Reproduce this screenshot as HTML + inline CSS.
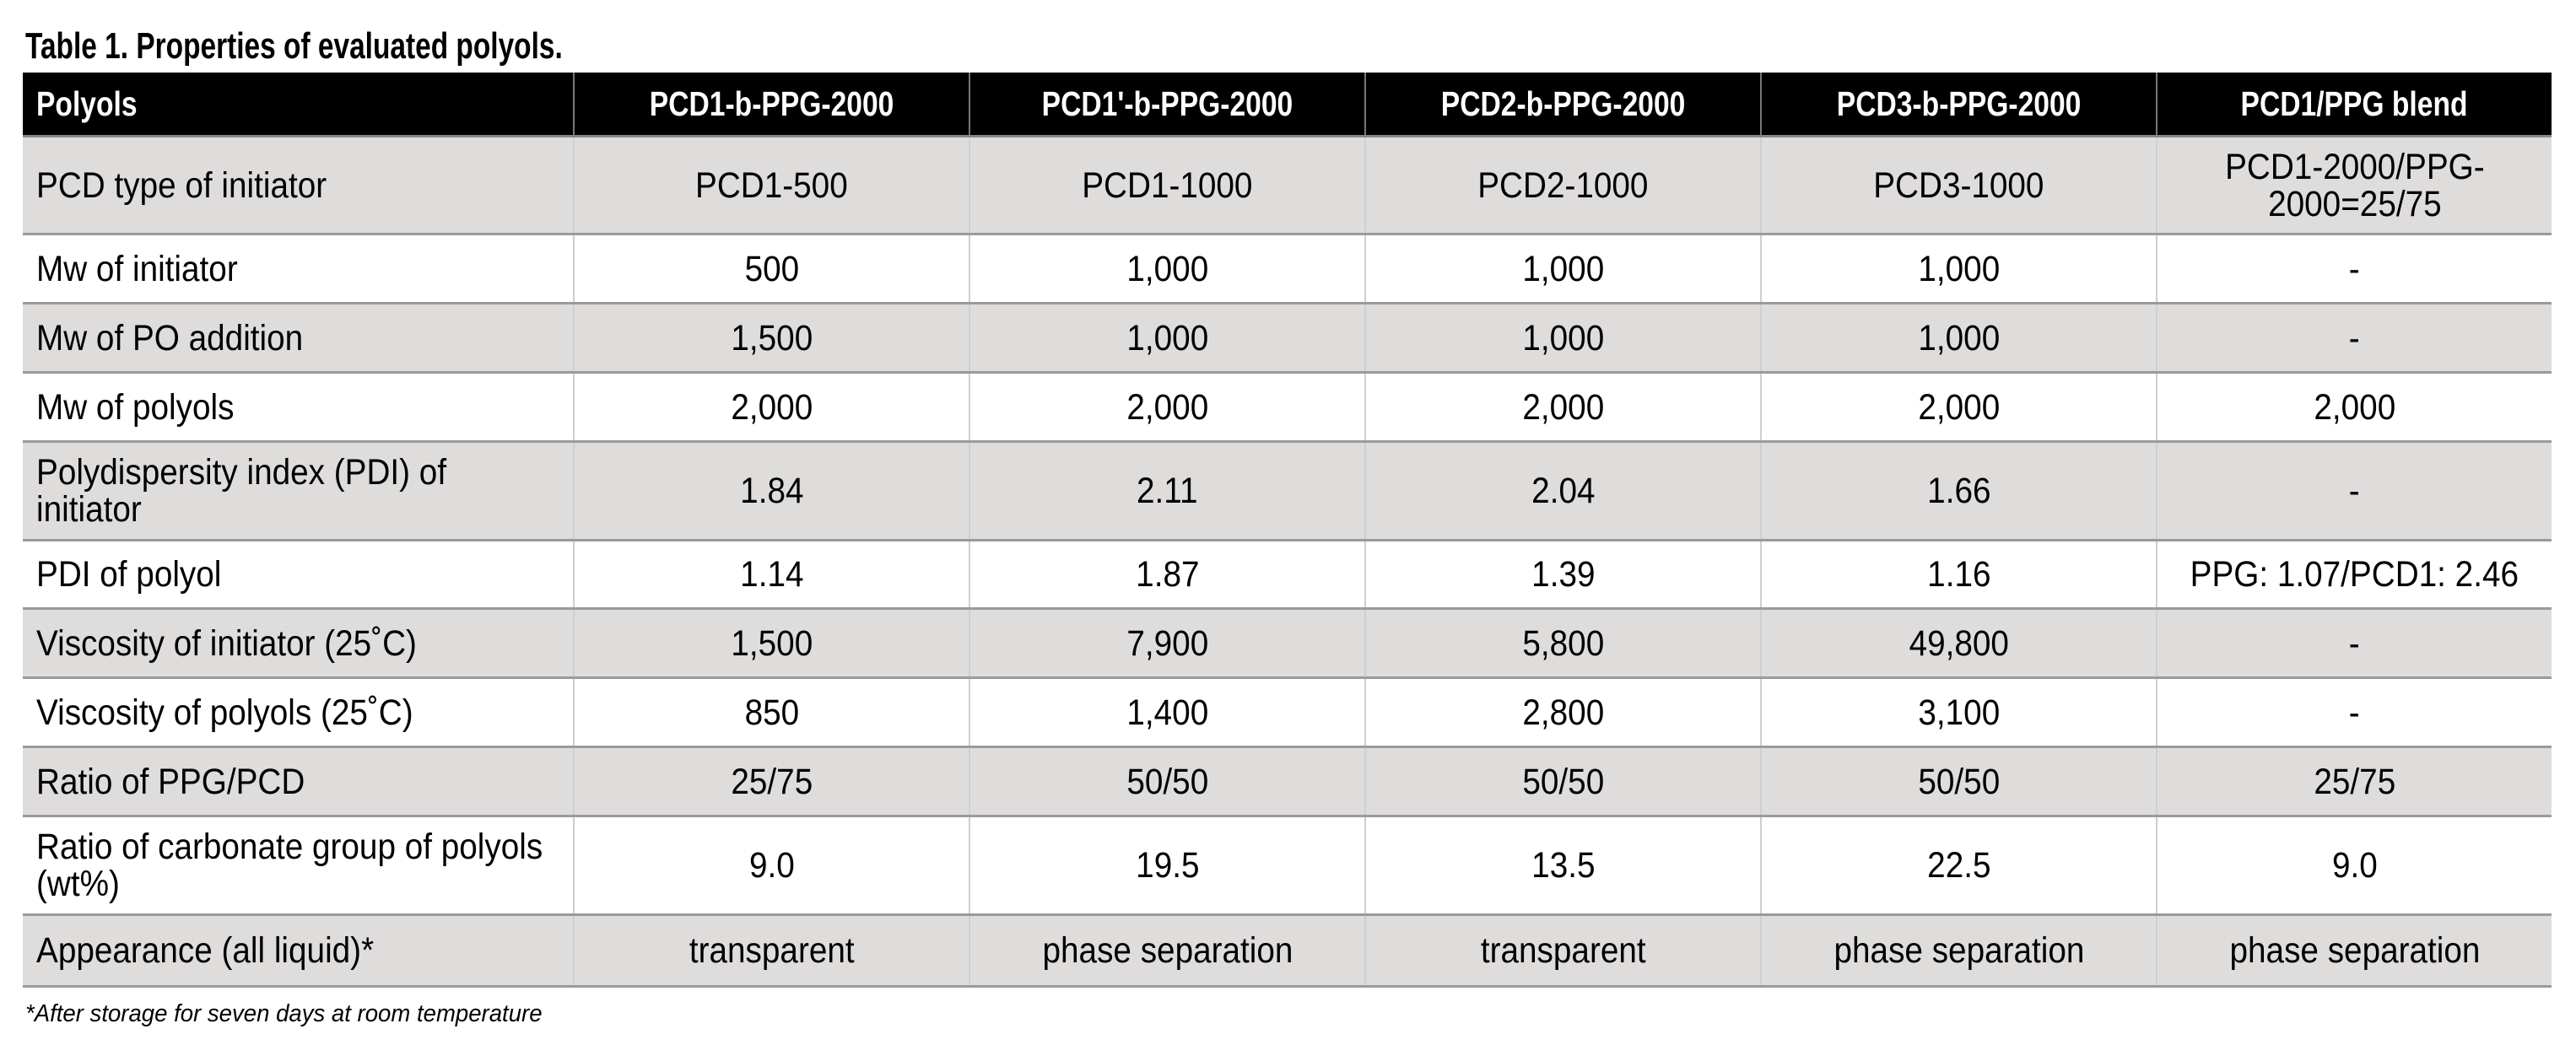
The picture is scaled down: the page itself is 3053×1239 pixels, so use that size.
<!DOCTYPE html>
<html><head><meta charset="utf-8"><style>
html,body{margin:0;padding:0;background:#fff;width:3053px;height:1239px;overflow:hidden}
body{position:relative;font-family:"Liberation Sans",sans-serif;color:#000}
.s{display:inline-block;white-space:nowrap;transform:scaleX(.9);transform-origin:50% 50%}
th .s{transform:scaleX(.82)}
.l{transform-origin:0 50%}
th .l{transform-origin:0 50%}
.title{position:absolute;left:30px;top:30px;font-size:44px;font-weight:bold;line-height:50px;white-space:nowrap;transform:scaleX(.76);transform-origin:0 0}
table{position:absolute;left:27px;top:86px;width:2997px;border-collapse:collapse;table-layout:fixed}
td,th{font-size:43px;text-align:center;padding:0 8px;line-height:44px;border-left:2px solid #cfcfcf;border-bottom:3px solid #9a9a9a;white-space:nowrap;overflow:visible}
th{background:#000;color:#fff;font-weight:bold;height:74px;border-left:2px solid #777;border-bottom:3px solid #888;font-size:41px}
td:first-child,th:first-child{text-align:left;padding-left:16px;border-left:none}
tr.g td{background:#dfdcdc}
.foot{position:absolute;left:30px;top:1186px;font-size:29px;font-style:italic;white-space:nowrap;transform:scaleX(.95);transform-origin:0 0}
</style></head><body>
<div class="title">Table 1. Properties of evaluated polyols.</div>
<table>
<colgroup><col style="width:653px"><col style="width:469px"><col style="width:469px"><col style="width:469px"><col style="width:469px"><col style="width:468px"></colgroup>
<tr><th><span class="s l">Polyols</span></th><th><span class="s">PCD1-b-PPG-2000</span></th><th><span class="s">PCD1'-b-PPG-2000</span></th><th><span class="s">PCD2-b-PPG-2000</span></th><th><span class="s">PCD3-b-PPG-2000</span></th><th><span class="s">PCD1/PPG blend</span></th></tr>
<tr class="g" style="height:116px"><td><span class="s l">PCD type of initiator</span></td><td><span class="s">PCD1-500</span></td><td><span class="s">PCD1-1000</span></td><td><span class="s">PCD2-1000</span></td><td><span class="s">PCD3-1000</span></td><td><span class="s">PCD1-2000/PPG-<br>2000=25/75</span></td></tr>
<tr style="height:82px"><td><span class="s l">Mw of initiator</span></td><td><span class="s">500</span></td><td><span class="s">1,000</span></td><td><span class="s">1,000</span></td><td><span class="s">1,000</span></td><td><span class="s">-</span></td></tr>
<tr class="g" style="height:82px"><td><span class="s l">Mw of PO addition</span></td><td><span class="s">1,500</span></td><td><span class="s">1,000</span></td><td><span class="s">1,000</span></td><td><span class="s">1,000</span></td><td><span class="s">-</span></td></tr>
<tr style="height:82px"><td><span class="s l">Mw of polyols</span></td><td><span class="s">2,000</span></td><td><span class="s">2,000</span></td><td><span class="s">2,000</span></td><td><span class="s">2,000</span></td><td><span class="s">2,000</span></td></tr>
<tr class="g" style="height:117px"><td><span class="s l">Polydispersity index (PDI) of<br>initiator</span></td><td><span class="s">1.84</span></td><td><span class="s">2.11</span></td><td><span class="s">2.04</span></td><td><span class="s">1.66</span></td><td><span class="s">-</span></td></tr>
<tr style="height:81px"><td><span class="s l">PDI of polyol</span></td><td><span class="s">1.14</span></td><td><span class="s">1.87</span></td><td><span class="s">1.39</span></td><td><span class="s">1.16</span></td><td><span class="s">PPG: 1.07/PCD1: 2.46</span></td></tr>
<tr class="g" style="height:82px"><td><span class="s l">Viscosity of initiator (25˚C)</span></td><td><span class="s">1,500</span></td><td><span class="s">7,900</span></td><td><span class="s">5,800</span></td><td><span class="s">49,800</span></td><td><span class="s">-</span></td></tr>
<tr style="height:82px"><td><span class="s l">Viscosity of polyols (25˚C)</span></td><td><span class="s">850</span></td><td><span class="s">1,400</span></td><td><span class="s">2,800</span></td><td><span class="s">3,100</span></td><td><span class="s">-</span></td></tr>
<tr class="g" style="height:82px"><td><span class="s l">Ratio of PPG/PCD</span></td><td><span class="s">25/75</span></td><td><span class="s">50/50</span></td><td><span class="s">50/50</span></td><td><span class="s">50/50</span></td><td><span class="s">25/75</span></td></tr>
<tr style="height:117px"><td><span class="s l">Ratio of carbonate group of polyols<br>(wt%)</span></td><td><span class="s">9.0</span></td><td><span class="s">19.5</span></td><td><span class="s">13.5</span></td><td><span class="s">22.5</span></td><td><span class="s">9.0</span></td></tr>
<tr class="g" style="height:85px"><td><span class="s l">Appearance (all liquid)*</span></td><td><span class="s">transparent</span></td><td><span class="s">phase separation</span></td><td><span class="s">transparent</span></td><td><span class="s">phase separation</span></td><td><span class="s">phase separation</span></td></tr>
</table>
<div class="foot">*After storage for seven days at room temperature</div>
</body></html>
